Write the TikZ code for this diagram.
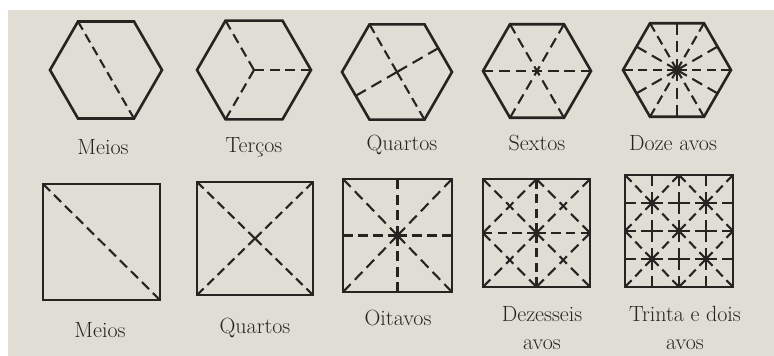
\documentclass[tikz,border=0pt]{standalone}
\usepackage{fontspec}
\usetikzlibrary{calc}

\definecolor{ink}{HTML}{262321}
\definecolor{pageL}{HTML}{E3D6BA}
\definecolor{pageR}{HTML}{E0DDD5}
\pgfdeclarehorizontalshading{page}{100bp}{color(0bp)=(pageL); color(12bp)=(pageR); color(100bp)=(pageR)}

\def\dsdash{10}
\def\dsgap{5.5}
% dashed cut, dashes stretched so that both ends are solid
\newcommand\dashseg[2]{%
  \path (#1) coordinate (dsA) (#2) coordinate (dsB);
  \pgfpointdiff{\pgfpointanchor{dsA}{center}}{\pgfpointanchor{dsB}{center}}%
  \pgfgetlastxy{\dsx}{\dsy}%
  \pgfmathsetmacro\dslen{veclen(\dsx,\dsy)}%
  \pgfmathsetmacro\dsn{max(1,round((\dslen+\dsgap)/(\dsdash+\dsgap)))}%
  \pgfmathsetmacro\dsk{\dslen/(\dsn*\dsdash+(\dsn-1)*\dsgap)}%
  \pgfmathsetmacro\dson{\dsk*\dsdash}%
  \pgfmathsetmacro\dsoff{\dsk*\dsgap}%
  \draw[cut, dash pattern=on \dson pt off \dsoff pt] (dsA) -- (dsB);
}
% hexagon: name, x, y, radius (corners and side midpoints named by angle)
\newcommand\hexa[4]{%
  \coordinate (#1) at (#2,#3);
  \foreach \a in {0,60,...,300}
    \coordinate (#1-\a) at ($(#1)+(-\a:#4)$);
  \foreach \a in {30,90,...,330}
    \coordinate (#1-\a) at ($(#1)+(-\a:0.866*#4)$);
  \draw[edge] (#1-0) -- (#1-60) -- (#1-120) -- (#1-180) -- (#1-240) -- (#1-300) -- cycle;
}

\begin{document}
\begin{tikzpicture}[
    x=1pt, y=-1pt,
    edge/.style={draw=ink, line width=2.6pt, line join=miter},
    cut/.style={draw=ink, line width=2.1pt},
    lbl/.style={text=ink, font=\fontsize{22}{28}\selectfont\addfontfeature{FakeBold=1.6},
                align=center, inner sep=0pt},
]
\useasboundingbox (0,0) rectangle (774,356);
\fill[white] (0,0) rectangle (774,356);
\shade[shading=page] (8,10) rectangle (774,356);

% Hexagons
\hexa{h1}{106}{70}{56}
\dashseg{h1-120}{h1-300}

\hexa{h2}{254}{70}{57}
\foreach \a in {0,120,240} {\dashseg{h2}{h2-\a}}

\hexa{h3}{397}{72}{55}
\foreach \a in {30,120,210,300} {\dashseg{h3}{h3-\a}}

\hexa{h4}{537}{71}{54}
\dashseg{h4-0}{h4-180}
\dashseg{h4-60}{h4-240}
\dashseg{h4-120}{h4-300}

\hexa{h5}{677}{70}{54}
\foreach \a in {0,30,...,330} {\dashseg{h5}{h5-\a}}

\node[lbl] (hmeios) at (103,147) {Meios};
\node[lbl] (hterc) at (254,147) {Terços};
\node[lbl] (hquart) at (402,145) {Quartos};
\node[lbl] (hsext) at (537,143) {Sextos};
\node[lbl] (hdoze) at (673,143) {Doze avos};

% Squares
\begin{scope}[shift={(43,184)}, x=58.5pt, y=-58pt]
  \draw[edge] (0,0) rectangle (2,2);
  \dashseg{0,0}{2,2}
\end{scope}

\begin{scope}[shift={(197,182)}, x=58pt, y=-56.5pt]
  \draw[edge] (0,0) rectangle (2,2);
  \foreach \a/\b in {0/0,2/0,2/2,0/2} {\dashseg{1,1}{\a,\b}}
\end{scope}

\begin{scope}[shift={(343,179)}, x=54.5pt, y=-56.5pt]
  \draw[edge] (0,0) rectangle (2,2);
  \foreach \a/\b in {0/0,1/0,2/0,2/1,2/2,1/2,0/2,0/1} {\dashseg{1,1}{\a,\b}}
\end{scope}

\begin{scope}[shift={(483,179)}, x=53.5pt, y=-54pt]
  \draw[edge] (0,0) rectangle (2,2);
  \foreach \i in {0,1} {
    \dashseg{1,\i}{1,\i+1}
    \dashseg{\i,1}{\i+1,1}
    \dashseg{\i,\i}{\i+1,\i+1}
    \dashseg{\i,2-\i}{\i+1,1-\i}
  }
  \foreach \a/\b/\c/\d in {1/0/0/1, 0/1/1/2, 1/2/2/1, 2/1/1/0} {\dashseg{\a,\b}{\c,\d}}
\end{scope}

\begin{scope}[shift={(625,175)}, x=27pt, y=-28pt]
  \draw[edge] (0,0) rectangle (4,4);
  \foreach \k in {1,2,3} {
    \foreach \i in {0,...,3} {
      \dashseg{\i,\k}{\i+1,\k}
      \dashseg{\k,\i}{\k,\i+1}
    }
  }
  \foreach \i in {0,...,3} {
    \dashseg{\i,\i}{\i+1,\i+1}
    \dashseg{\i,4-\i}{\i+1,3-\i}
  }
  \foreach \a/\b/\c/\d in {2/0/1/1, 1/1/0/2, 0/2/1/3, 1/3/2/4, 2/4/3/3, 3/3/4/2, 4/2/3/1, 3/1/2/0}
    {\dashseg{\a,\b}{\c,\d}}
\end{scope}

\node[lbl] (smeios) at (100,330) {Meios};
\node[lbl] (squart) at (255,328) {Quartos};
\node[lbl] (soit) at (398,318) {Oitavos};
\node[lbl] (sdez) at (542,328) {Dezesseis\\avos};
\node[lbl] (strin) at (685,328) {Trinta e dois\\avos};
\end{tikzpicture}
\end{document}
